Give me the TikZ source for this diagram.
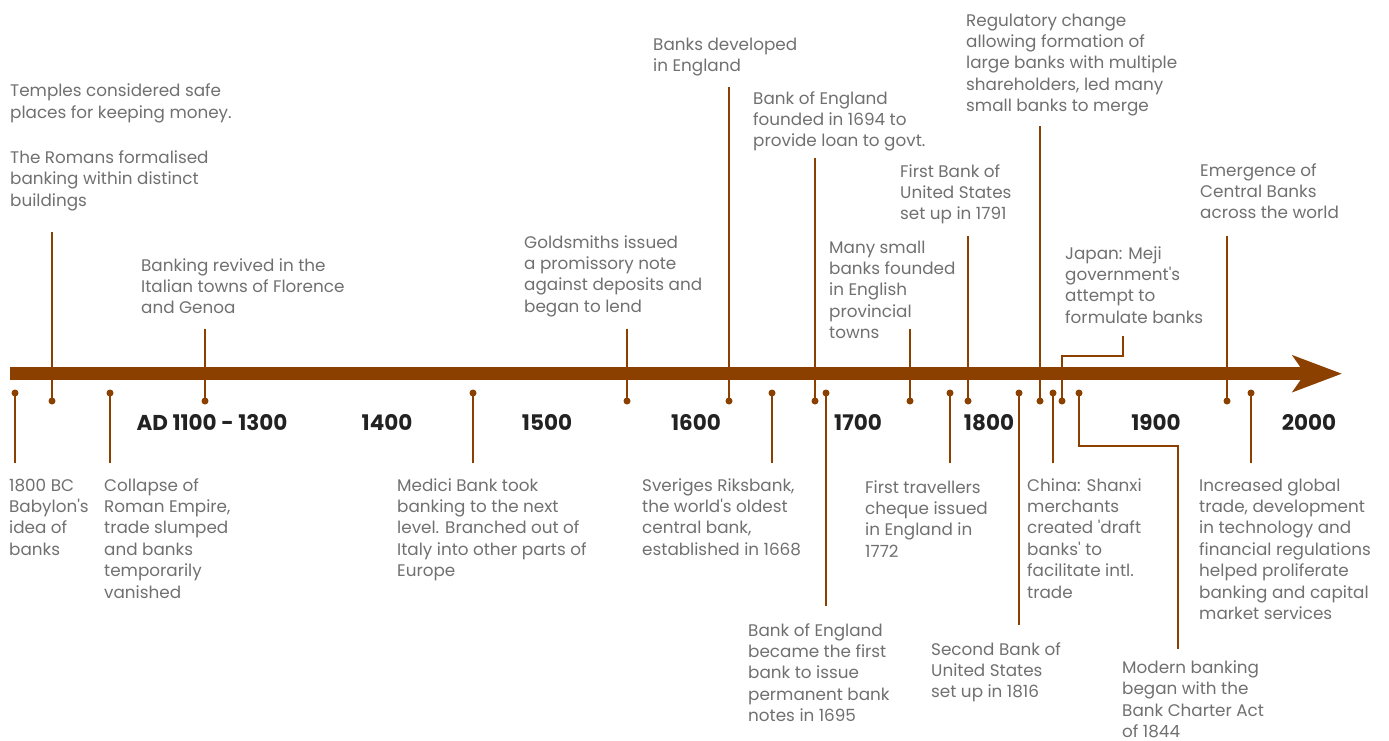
\documentclass[tikz,border=0pt]{standalone}
\usepackage{fontspec}
\setmainfont{Poppins}
\usetikzlibrary{arrows.meta}

\definecolor{rust}{RGB}{140,64,0}
\definecolor{notegray}{RGB}{112,112,112}
\definecolor{yearink}{RGB}{34,34,34}
\newcommand{\ap}{\textquotesingle}

\tikzset{
  stem/.style={draw=rust, line width=1.6pt},
  dot/.style={circle, fill=rust, inner sep=0pt, minimum size=7pt},
  % notes sit on the baseline of their last line
  note/.style={anchor=base west, align=left, inner sep=0pt, text=notegray,
    font=\fontsize{16.8}{21.4}\selectfont},
  year/.style={anchor=base, inner sep=0pt, text=yearink,
    font=\fontsize{21.5}{24}\selectfont\bfseries}
}

\begin{document}
\begin{tikzpicture}[x=1pt,y=-1pt]
  \useasboundingbox (0,0) rectangle (1389,740);

  % the time axis
  \coordinate (axisL) at (10,373.7);
  \coordinate (axisR) at (1342,373.7);
  \draw[rust, line width=12.7pt, -{Stealth[length=49pt, width=36pt, inset=12pt]}] (axisL) -- (axisR);

  % year marks
  \node[year] (y1100) at (212,430) {AD 1100 - 1300};
  \node[year] (y1400) at (387,430) {1400};
  \node[year] (y1500) at (547,430) {1500};
  \node[year] (y1600) at (696,430) {1600};
  \node[year] (y1700) at (858,430) {1700};
  \node[year] (y1800) at (989,430) {1800};
  \node[year] (y1900) at (1156,430) {1900};
  \node[year] (y2000) at (1309,430) {2000};

  % events above the axis
  \node[dot] (u1) at (52,401) {};
  \coordinate (u1top) at (52,232);
  \draw[stem] (u1.center) -- (u1top);
  \node[note] (temples) at (10,206) {Temples considered safe\\places for keeping money.\\[23.6pt]The Romans formalised\\banking within distinct\\buildings};

  \node[dot] (u2) at (205,401) {};
  \coordinate (u2top) at (205,329);
  \draw[stem] (u2.center) -- (u2top);
  \node[note] (revived) at (141,313.8) {Banking revived in the\\Italian towns of Florence\\and Genoa};

  \node[dot] (u3) at (627,401) {};
  \coordinate (u3top) at (627,329);
  \draw[stem] (u3.center) -- (u3top);
  \node[note] (goldsmiths) at (524,312.2) {Goldsmiths issued\\a promissory note\\against deposits and\\began to lend};

  \node[dot] (u4) at (729,401) {};
  \coordinate (u4top) at (729,87);
  \draw[stem] (u4.center) -- (u4top);
  \node[note] (developed) at (653,71.4) {Banks developed\\in England};

  \node[dot] (u5) at (815,401) {};
  \coordinate (u5top) at (815,158);
  \draw[stem] (u5.center) -- (u5top);
  \node[note] (boefounded) at (753,146.8) {Bank of England\\founded in 1694 to\\provide loan to govt.};

  \node[dot] (u6) at (910,401) {};
  \coordinate (u6top) at (910,329);
  \draw[stem] (u6.center) -- (u6top);
  \node[note] (provincial) at (829,338.6) {Many small\\banks founded\\in English\\provincial\\towns};

  \node[dot] (u7) at (968,401) {};
  \coordinate (u7top) at (968,236);
  \draw[stem] (u7.center) -- (u7top);
  \node[note] (firstbank) at (900,219.8) {First Bank of\\United States\\set up in 1791};

  \node[dot] (u8) at (1040,401) {};
  \coordinate (u8top) at (1040,126);
  \draw[stem] (u8.center) -- (u8top);
  \node[note] (regulatory) at (966,111.6) {Regulatory change\\allowing formation of\\large banks with multiple\\shareholders, led many\\small banks to merge};

  \node[dot] (u9) at (1062,401) {};
  \coordinate (u9top) at (1123,336);
  \draw[stem] (u9.center) |- (1123,356) -- (u9top);
  \node[note] (japan) at (1065,323.2) {Japan: Meji\\government\ap s\\attempt to\\formulate banks};

  \node[dot] (u10) at (1227,401) {};
  \coordinate (u10top) at (1227,236);
  \draw[stem] (u10.center) -- (u10top);
  \node[note] (central) at (1200,218.8) {Emergence of\\Central Banks\\across the world};

  % events below the axis
  \node[dot] (d1) at (15,393) {};
  \coordinate (d1end) at (15,463);
  \draw[stem] (d1.center) -- (d1end);
  \node[note] (babylon) at (9,555.2) {1800 BC\\Babylon\ap s\\idea of\\banks};

  \node[dot] (d2) at (110,393) {};
  \coordinate (d2end) at (110,463);
  \draw[stem] (d2.center) -- (d2end);
  \node[note] (collapse) at (104,598) {Collapse of\\Roman Empire,\\trade slumped\\and banks\\temporarily\\vanished};

  \node[dot] (d3) at (473,393) {};
  \coordinate (d3end) at (473,463);
  \draw[stem] (d3.center) -- (d3end);
  \node[note] (medici) at (397,576.6) {Medici Bank took\\banking to the next\\level. Branched out of\\Italy into other parts of\\Europe};

  \node[dot] (d4) at (772,393) {};
  \coordinate (d4end) at (772,463);
  \draw[stem] (d4.center) -- (d4end);
  \node[note] (riksbank) at (642,555.2) {Sveriges Riksbank,\\the world\ap s oldest\\central bank,\\established in 1668};

  \node[dot] (d5) at (826,393) {};
  \coordinate (d5end) at (826,606);
  \draw[stem] (d5.center) -- (d5end);
  \node[note] (boenotes) at (748,721.6) {Bank of England\\became the first\\bank to issue\\permanent bank\\notes in 1695};

  \node[dot] (d6) at (950,393) {};
  \coordinate (d6end) at (950,463);
  \draw[stem] (d6.center) -- (d6end);
  \node[note] (cheque) at (865,557.2) {First travellers\\cheque issued\\in England in\\1772};

  \node[dot] (d7) at (1019,393) {};
  \coordinate (d7end) at (1019,625);
  \draw[stem] (d7.center) -- (d7end);
  \node[note] (secondbank) at (931,697.8) {Second Bank of\\United States\\set up in 1816};

  \node[dot] (d8) at (1053,393) {};
  \coordinate (d8end) at (1053,463);
  \draw[stem] (d8.center) -- (d8end);
  \node[note] (shanxi) at (1027,598) {China: Shanxi\\merchants\\created \ap draft\\banks\ap{} to\\facilitate intl.\\trade};

  \node[dot] (d9) at (1079,393) {};
  \coordinate (d9end) at (1178,649);
  \draw[stem] (d9.center) |- (1178,446) -- (d9end);
  \node[note] (charter) at (1122,737.5) {Modern banking\\began with the\\Bank Charter Act\\of 1844};

  \node[dot] (d10) at (1251,393) {};
  \coordinate (d10end) at (1251,463);
  \draw[stem] (d10.center) -- (d10end);
  \node[note] (global) at (1199,619.4) {Increased global\\trade, development\\in technology and\\financial regulations\\helped proliferate\\banking and capital\\market services};
\end{tikzpicture}
\end{document}
